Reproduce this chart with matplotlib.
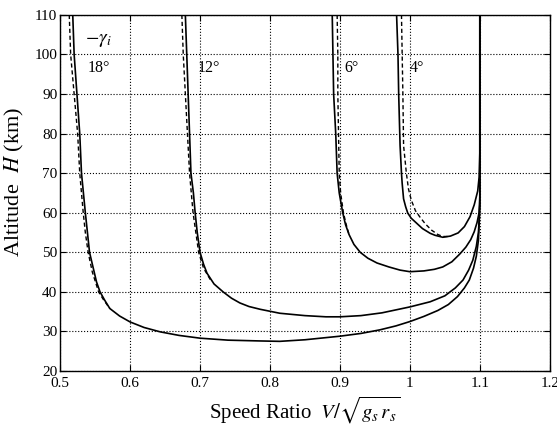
import matplotlib
matplotlib.use("Agg")
import matplotlib.pyplot as plt

plt.rcParams["font.family"] = "Liberation Serif"
plt.rcParams["mathtext.fontset"] = "stix"

# speed ratio (x) and altitude in km (h)
# -gamma_i = 18 deg
x18 = [0.518, 0.520, 0.524, 0.528, 0.5305, 0.536, 0.539, 0.542, 0.548, 0.552, 0.557,
       0.564, 0.571, 0.585, 0.600, 0.620, 0.643, 0.670, 0.700, 0.740, 0.786, 0.814,
       0.850, 0.900, 0.930, 0.957, 0.980, 1.000, 1.020, 1.040, 1.055, 1.068, 1.078,
       1.085, 1.091, 1.095, 1.098, 1.099, 1.100, 1.100]
h18 = [110, 100, 90, 80, 70, 60, 55, 50, 45.5, 42.5, 40, 37.8, 35.8, 33.9, 32.4, 31,
       29.9, 29, 28.3, 27.8, 27.6, 27.5, 27.9, 28.8, 29.5, 30.4, 31.4, 32.5, 33.8, 35.3,
       36.8, 38.8, 41, 43, 46, 49, 53, 57, 62, 110]
x18d = [0.513, 0.515, 0.520, 0.525, 0.528, 0.533, 0.536, 0.540, 0.546, 0.555, 0.562, 0.571]
h18d = [110, 100, 90, 80, 70, 60, 55, 50, 45, 40, 38, 35.8]

# -gamma_i = 12 deg
x12 = [0.679, 0.681, 0.683, 0.685, 0.687, 0.6905, 0.693, 0.696, 0.700, 0.705, 0.710,
       0.720, 0.733, 0.745, 0.757, 0.770, 0.786, 0.814, 0.850, 0.880, 0.900, 0.930,
       0.960, 1.000, 1.029, 1.050, 1.065, 1.076, 1.084, 1.090, 1.095, 1.098, 1.099,
       1.100, 1.100]
h12 = [110, 100, 90, 80, 70, 65, 60, 55, 50, 47, 44.7, 42, 40, 38.4, 37.2, 36.3, 35.6,
       34.6, 34, 33.7, 33.7, 34, 34.7, 36.2, 37.5, 39, 41, 43, 45.5, 48, 51.5, 55, 58,
       62, 110]
x12d = [0.674, 0.676, 0.679, 0.682, 0.685, 0.690, 0.694, 0.698, 0.705, 0.715]
h12d = [110, 100, 90, 80, 70, 60, 55, 50, 46, 43]

# -gamma_i = 6 deg
x6 = [0.889, 0.890, 0.891, 0.894, 0.896, 0.899, 0.904, 0.908, 0.913, 0.920, 0.929,
      0.940, 0.953, 0.970, 0.986, 1.000, 1.020, 1.035, 1.047, 1.060, 1.071, 1.080,
      1.087, 1.092, 1.096, 1.099, 1.100, 1.100]
h6 = [110, 100, 90, 80, 70, 65, 60, 57, 54.5, 52, 50, 48.5, 47.3, 46.3, 45.5, 45.1,
      45.3, 45.7, 46.3, 47.6, 49.5, 51.3, 53.2, 55.2, 57.5, 60, 64, 110]
x6d = [0.896, 0.897, 0.897, 0.898, 0.899, 0.901, 0.905, 0.909, 0.913]
h6d = [110, 100, 90, 80, 70, 65, 60, 57, 54.5]

# -gamma_i = 4 deg
x4 = [0.981, 0.983, 0.984, 0.986, 0.988, 0.989, 0.991, 0.994, 0.997, 1.002, 1.010,
      1.018, 1.029, 1.036, 1.047, 1.058, 1.069, 1.078, 1.086, 1.092, 1.097, 1.099,
      1.100, 1.100]
h4 = [110, 100, 90, 77, 70, 67.4, 63.5, 61.5, 59.9, 58.6, 57.3, 56, 54.8, 54.3, 53.8,
      54.1, 54.9, 56.5, 59, 62, 65.5, 69, 75, 110]
x4d = [0.988, 0.989, 0.990, 0.991, 0.995, 0.998, 1.002, 1.008, 1.014, 1.022, 1.031,
       1.040, 1.047, 1.055]
h4d = [110, 100, 90, 77, 70, 66, 63.2, 60.5, 59, 57.2, 55.6, 54.5, 54.0, 54.0]

labels = ["18°", "12°", "6°", "4°"]
label_x = [0.540, 0.696, 0.906, 1.000]

fig = plt.figure(figsize=(5.57, 4.25), dpi=100)
ax = fig.add_axes([0.108, 0.127, 0.879, 0.838])

for xs, hs in [(x18, h18), (x12, h12), (x6, h6), (x4, h4)]:
    ax.plot(xs, hs, color="black", lw=1.2)
for xs, hs in [(x18d, h18d), (x12d, h12d), (x6d, h6d), (x4d, h4d)]:
    ax.plot(xs, hs, color="black", lw=1.0, ls=(0, (3, 2)))

for lab, lx in zip(labels, label_x):
    ax.text(lx, 96.7, lab, fontsize=11.5, va="center", ha="left")
ax.text(0.535, 103.6, r"$-\gamma_i$", fontsize=14, va="center", ha="left")

ax.set_xlim(0.5, 1.2)
ax.set_ylim(20, 110)
ax.set_xticks([0.5, 0.6, 0.7, 0.8, 0.9, 1.0, 1.1, 1.2])
ax.set_xticklabels(["0.5", "0.6", "0.7", "0.8", "0.9", "1", "1.1", "1.2"])
ax.set_yticks(range(20, 111, 10))
ax.tick_params(direction="in", top=True, right=True, labelsize=11, length=4)
ax.tick_params(axis="x", pad=4.5)
ax.tick_params(axis="y", pad=2)
ax.grid(True, color="black", ls=":", lw=0.8)
for s in ax.spines.values():
    s.set_linewidth(1.0)

ax.set_xlabel(r"Speed Ratio  $V/\sqrt{g_s\,r_s}$", fontsize=15, labelpad=3)
ax.set_ylabel(r"Altitude  $\mathit{H}$ (km)", fontsize=16)
ax.yaxis.set_label_coords(-0.069, 0.53)

fig.savefig("out.png", dpi=100)
